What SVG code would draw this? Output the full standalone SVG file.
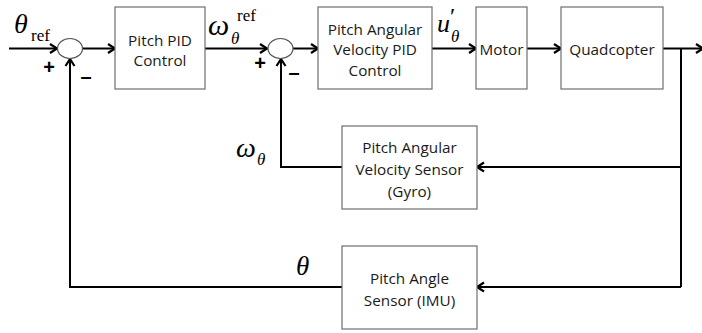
<svg xmlns="http://www.w3.org/2000/svg" width="702" height="333" viewBox="0 0 702 333">
<style>
.box{fill:#fff;stroke:#6e6e6e;stroke-width:1.2}
.lbl{font-family:"Open Sans","Liberation Sans",sans-serif;font-size:15.3px;fill:#1a1a1a;text-anchor:middle}
.m{font-family:"Liberation Serif","DejaVu Serif",serif;fill:#000}
.mi{font-style:italic}
.sg{font-family:"Liberation Sans",sans-serif;font-size:20px;font-weight:bold;fill:#000;text-anchor:middle}
.wire{fill:none;stroke:#000;stroke-width:2}
.arr{marker-end:url(#ah)}
</style>
<defs>
<marker id="ah" markerUnits="userSpaceOnUse" markerWidth="12" markerHeight="12" refX="9" refY="6" orient="auto">
<path d="M2,1.5 L9,6 L2,10.5" fill="none" stroke="#000" stroke-width="2.2"/>
</marker>
</defs>
<g id="connectors">
<path class="wire arr" d="M9 48.5 H57"/>
<path class="wire arr" d="M83 48.5 H115"/>
<path class="wire arr" d="M205 48.5 H267"/>
<path class="wire arr" d="M293 48.5 H318"/>
<path class="wire arr" d="M432 48.5 H476"/>
<path class="wire arr" d="M527 48.5 H561"/>
<path class="wire arr" d="M663 48.5 H703"/>
<path class="wire" d="M681 48.5 V287"/>
<path class="wire arr" d="M681 167 H477"/>
<path class="wire arr" d="M681 287 H477"/>
<path class="wire arr" d="M342 167 H281 V59"/>
<path class="wire arr" d="M342 287 H70 V59"/>
</g>
<g id="sum1"><ellipse cx="70" cy="48.5" rx="12.5" ry="10" fill="#fff" stroke="#555" stroke-width="1.2"/></g>
<g id="sum2"><ellipse cx="280.5" cy="48.5" rx="12.5" ry="10" fill="#fff" stroke="#555" stroke-width="1.2"/></g>
<g id="pid"><rect class="box" x="115" y="7" width="90" height="82"/>
<text class="lbl" x="160" y="46">Pitch PID</text><text class="lbl" x="160" y="66">Control</text></g>
<g id="avpid"><rect class="box" x="318" y="7" width="114" height="82"/>
<text class="lbl" x="375" y="35">Pitch Angular</text><text class="lbl" x="375" y="55">Velocity PID</text><text class="lbl" x="375" y="76">Control</text></g>
<g id="motor"><rect class="box" x="476" y="7" width="51" height="82"/>
<text class="lbl" x="501.5" y="55">Motor</text></g>
<g id="quad"><rect class="box" x="561" y="7" width="102" height="82"/>
<text class="lbl" x="612" y="55">Quadcopter</text></g>
<g id="gyro"><rect class="box" x="342" y="126" width="135" height="83"/>
<text class="lbl" x="409.5" y="153">Pitch Angular</text><text class="lbl" x="409.5" y="175">Velocity Sensor</text><text class="lbl" x="409.5" y="197">(Gyro)</text></g>
<g id="imu"><rect class="box" x="342" y="246" width="135" height="83"/>
<text class="lbl" x="409.5" y="284">Pitch Angle</text><text class="lbl" x="409.5" y="306">Sensor (IMU)</text></g>
<g id="labels">
<text class="m mi" x="14" y="33" font-size="28">θ</text>
<text class="m" x="31" y="41" font-size="17">ref</text>
<text class="sg" x="49" y="74">+</text>
<text class="sg" x="86" y="83">–</text>
<text class="m mi" x="208" y="35" font-size="30">ω</text>
<text class="m mi" x="231" y="44" font-size="17">θ</text>
<text class="m" x="237" y="21" font-size="17">ref</text>
<text class="sg" x="260" y="70">+</text>
<text class="sg" x="294" y="79">–</text>
<text class="m mi" x="437" y="32" font-size="26">u</text>
<text class="m" x="450" y="24" font-size="24">′</text>
<text class="m mi" x="451" y="42" font-size="17">θ</text>
<text class="m mi" x="236" y="157" font-size="28">ω</text>
<text class="m mi" x="257" y="165" font-size="17">θ</text>
<text class="m mi" x="296" y="275" font-size="27">θ</text>
</g>
</svg>
